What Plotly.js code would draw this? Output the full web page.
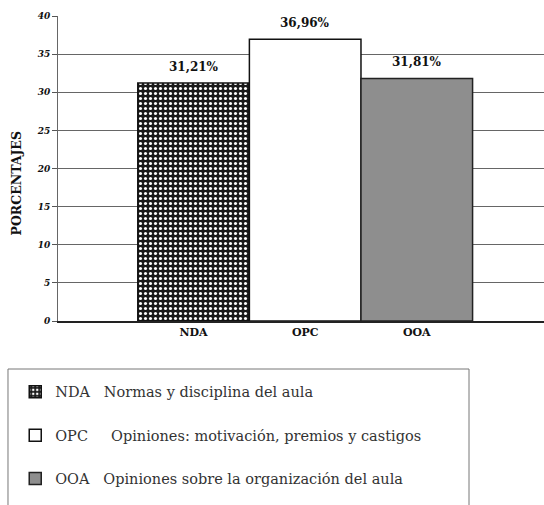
<!DOCTYPE html>
<html>
<head>
<meta charset="utf-8">
<script src="https://cdn.plot.ly/plotly-3.0.1.min.js"></script>
<style>html,body{margin:0;padding:0;background:#fff;}#chart{width:544px;height:505px;}</style>
</head>
<body>
<div id="chart"></div>
<script>
const categories = ["NDA", "OPC", "OOA"];
const values = [31.21, 36.96, 31.81];
const descriptions = [
  "NDA\u00a0\u00a0\u00a0Normas y disciplina del aula",
  "OPC\u00a0\u00a0\u00a0\u00a0\u00a0Opiniones: motivación, premios y castigos",
  "OOA\u00a0\u00a0\u00a0Opiniones sobre la organización del aula"
];
const yTicks = [0, 5, 10, 15, 20, 25, 30, 35, 40];
const yTitle = "PORCENTAJES";

const serif = "'DejaVu Serif', serif";
const markers = [
  {color: "#1a1a1a", line: {color: "#111", width: 1.5},
   pattern: {shape: ".", fgcolor: "#ffffff", bgcolor: "#1a1a1a", size: 5, solidity: 0.3}},
  {color: "#ffffff", line: {color: "#111", width: 1.5}},
  {color: "#8e8e8e", line: {color: "#222", width: 1.5}}
];

const traces = categories.map((c, i) => ({
  type: "bar",
  x: [c],
  y: [values[i]],
  name: descriptions[i],
  legendgroup: "g" + i,
  marker: markers[i],
  hoverinfo: "skip"
}));

const annotations = categories.map((c, i) => ({
  x: c, y: values[i], xref: "x", yref: "y",
  text: values[i].toFixed(2).replace(".", ",") + "%",
  showarrow: false, yanchor: "bottom", yshift: 7,
  font: {family: serif, size: 12, color: "#111", weight: "bold"}
}));
annotations.push({
  x: -0.085, y: 0.45, xref: "paper", yref: "paper",
  text: yTitle, textangle: -90, showarrow: false,
  xanchor: "center", yanchor: "middle",
  font: {family: serif, size: 12.5, color: "#111", weight: "bold"}
});

const layout = {
  width: 544, height: 505,
  margin: {l: 58, r: 0, t: 16, b: 184},
  paper_bgcolor: "#fff", plot_bgcolor: "#fff",
  font: {family: serif},
  barmode: "overlay", bargap: 0,
  showlegend: true,
  legend: {
    x: -0.088, y: -0.18, xanchor: "left", yanchor: "top",
    orientation: "v", traceorder: "grouped", tracegroupgap: 21.5,
    font: {family: serif, size: 14.5, color: "#333"},
    bgcolor: "rgba(0,0,0,0)", borderwidth: 0
  },
  xaxis: {
    range: [-1.215, 3.14],
    categoryorder: "array", categoryarray: categories,
    tickfont: {family: serif, size: 11, color: "#111", weight: "bold"},
    showgrid: false, showline: true, linecolor: "#222", linewidth: 1.5,
    ticks: "", zeroline: false, fixedrange: true
  },
  yaxis: {
    range: [0, 40], tickvals: yTicks, ticktext: yTicks.map(String),
    tickfont: {family: serif, size: 9, color: "#111", weight: "bold", style: "italic"},
    ticks: "outside", ticklen: 5, tickcolor: "#555",
    showgrid: true, gridcolor: "#666", gridwidth: 1,
    showline: true, linecolor: "#666", linewidth: 1,
    zeroline: false
  },
  annotations: annotations,
  shapes: [{
    type: "rect", xref: "paper", yref: "paper",
    x0: -0.1029, x1: 0.8457, y0: -0.62, y1: -0.1574,
    line: {color: "#777", width: 1}, fillcolor: "rgba(0,0,0,0)", layer: "below"
  }]
};

Plotly.newPlot("chart", traces, layout, {displayModeBar: false, staticPlot: true});
</script>
</body>
</html>
